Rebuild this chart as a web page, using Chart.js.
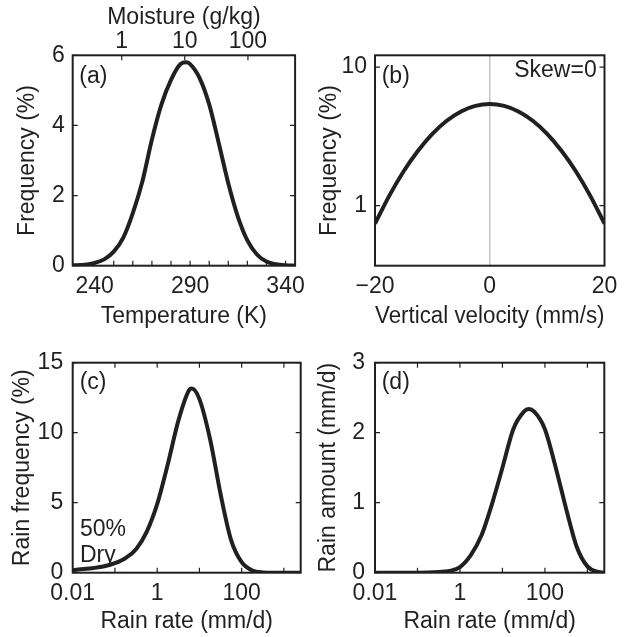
<!DOCTYPE html>
<html>
<head>
<meta charset="utf-8">
<script src="https://cdn.jsdelivr.net/npm/chart.js@4.4.1/dist/chart.umd.min.js"></script>
<style>
  html, body { margin: 0; padding: 0; background: #fff; }
  body { width: 627px; height: 637px; position: relative; overflow: hidden; }
  canvas { position: absolute; }
</style>
</head>
<body>
<canvas id="chartA" width="313" height="335" style="left:0;top:0"></canvas>
<canvas id="chartB" width="327" height="335" style="left:300px;top:0"></canvas>
<canvas id="chartC" width="313" height="302" style="left:0;top:335px"></canvas>
<canvas id="chartD" width="327" height="302" style="left:300px;top:335px"></canvas>
<script>
// (a) temperature distribution
const tempK = [228, 235, 240, 245, 250, 255, 260, 265, 270, 275, 280, 285, 288, 290, 295, 300, 305, 310, 315, 320, 325, 330, 335, 340, 345];
const freqTemp = [0.01, 0.03, 0.08, 0.18, 0.4, 0.8, 1.5, 2.4, 3.6, 4.6, 5.3, 5.75, 5.8, 5.75, 5.35, 4.6, 3.5, 2.35, 1.4, 0.72, 0.32, 0.12, 0.04, 0.01, 0];
const tempTicks = [240, 250, 260, 270, 280, 290, 300, 310, 320, 330, 340];
const tempLabels = [240, 290, 340];
const freqTicksA = [0, 2, 4, 6];
const moistureTickT = [254.2, 287.2, 320.3];
const moistureLabels = ["1", "10", "100"];

// (b) vertical velocity distribution (log y)
const velocity = [-20, -17.5, -15, -12.5, -10, -7.5, -5, -2.5, 0, 2.5, 5, 7.5, 10, 12.5, 15, 17.5, 20];
const freqVel = [0.74, 1.18, 1.77, 2.49, 3.30, 4.10, 4.79, 5.25, 5.42, 5.25, 4.79, 4.10, 3.30, 2.49, 1.77, 1.18, 0.74];
const velTicks = [-20, 0, 20];
const freqTicksB = [1, 10];

// (c) rain frequency
const rateC = [0.01, 0.018, 0.032, 0.056, 0.1, 0.18, 0.32, 0.56, 1, 1.8, 3.2, 5.6, 6.6, 10, 18, 32, 56, 100, 180, 320, 560, 2500];
const rainFreq = [0.2, 0.26, 0.34, 0.46, 0.68, 1.05, 1.7, 2.9, 4.9, 7.8, 10.9, 13.0, 13.15, 12.4, 9.5, 5.55, 2.35, 0.75, 0.15, 0.02, 0, 0];
const rainFreqTicks = [0, 5, 10, 15];

// (d) rain amount
const rateD = [0.01, 0.1, 0.32, 0.56, 1, 1.8, 3.2, 5.6, 10, 18, 32, 41, 56, 100, 180, 320, 560, 1000, 1800, 2500];
const rainAmount = [0, 0, 0.01, 0.025, 0.08, 0.25, 0.53, 0.97, 1.5, 2.05, 2.3, 2.34, 2.3, 2.05, 1.5, 0.9, 0.37, 0.09, 0.01, 0];
const rainAmountTicks = [0, 1, 2, 3];

const rateTicks = [0.01, 0.1, 1, 10, 100, 1000];
const rateLabels = [0.01, 1, 100];

const INK = "#231f20";
const FS = 23;
Chart.defaults.font.family = '"Liberation Sans", Arial, sans-serif';
Chart.defaults.font.size = FS;
Chart.defaults.color = INK;

// cadre + graduations vers l'intérieur + textes
const framePlugin = {
    id: "frame",
    beforeDatasetsDraw(chart, args, opts) {
        if (!opts.zeroLine) return;
        const { ctx, chartArea: a, scales } = chart;
        const px = scales.x.getPixelForValue(0);
        ctx.save();
        ctx.strokeStyle = "#c4c4c4";
        ctx.lineWidth = 1.5;
        ctx.beginPath();
        ctx.moveTo(px, a.top);
        ctx.lineTo(px, a.bottom);
        ctx.stroke();
        ctx.restore();
    },
    afterDatasetsDraw(chart, args, opts) {
        const { ctx, chartArea: a, scales } = chart;
        const len = 5;
        ctx.save();
        ctx.strokeStyle = INK;
        ctx.lineWidth = 1.2;
        ctx.beginPath();
        (opts.xMarks || []).forEach(v => {
            const px = scales.x.getPixelForValue(v);
            ctx.moveTo(px, a.bottom); ctx.lineTo(px, a.bottom - len);
            if (opts.xMirror) { ctx.moveTo(px, a.top); ctx.lineTo(px, a.top + len); }
        });
        (opts.topMarks || []).forEach(v => {
            const px = scales.x2.getPixelForValue(v);
            ctx.moveTo(px, a.top); ctx.lineTo(px, a.top + len);
        });
        (opts.yMarks || []).forEach(v => {
            const py = scales.y.getPixelForValue(v);
            ctx.moveTo(a.left, py); ctx.lineTo(a.left + len, py);
            ctx.moveTo(a.right, py); ctx.lineTo(a.right - len, py);
        });
        ctx.stroke();
        ctx.lineWidth = 2;
        ctx.strokeRect(a.left, a.top, a.right - a.left, a.bottom - a.top);

        ctx.fillStyle = INK;
        ctx.font = FS + 'px "Liberation Sans", Arial, sans-serif';
        ctx.textBaseline = "alphabetic";
        (opts.notes || []).forEach(n => {
            ctx.textAlign = n.align || "left";
            const x = n.align === "right" ? a.right + n.dx : a.left + n.dx;
            const y = n.fromBottom ? a.bottom + n.dy : a.top + n.dy;
            ctx.fillText(n.text, x, y);
        });
        ctx.restore();
    }
};

function axis(o) {
    return {
        type: o.type || "linear",
        axis: o.axis,
        position: o.position,
        min: o.min,
        max: o.max,
        grid: { display: false, drawTicks: false },
        border: { display: false },
        title: { display: true, text: o.title, color: INK, font: { size: FS }, padding: o.titlePad },
        ticks: { color: INK, font: { size: FS }, padding: o.tickPad, autoSkip: false, maxRotation: 0, callback: o.label },
        afterBuildTicks: s => { s.ticks = o.ticks.map(v => ({ value: v })); },
        afterFit: s => { if (s.isHorizontal()) s.height = o.size; else s.width = o.size; }
    };
}

function curve(xs, ys) {
    return {
        data: xs.map((x, i) => ({ x: x, y: ys[i] })),
        borderColor: INK,
        borderWidth: 4,
        pointRadius: 0,
        cubicInterpolationMode: "monotone",
        fill: false
    };
}

function config(xs, ys, padding, scales, frame) {
    return {
        type: "line",
        data: { datasets: [curve(xs, ys)] },
        options: {
            responsive: false,
            animation: false,
            layout: { padding: padding },
            scales: scales,
            plugins: { legend: { display: false }, tooltip: { enabled: false }, frame: frame }
        },
        plugins: [framePlugin]
    };
}

const minus = v => (v < 0 ? "\u2212" + Math.abs(v) : String(v));
const onlyRate = v => (rateLabels.includes(v) ? String(v) : "");

// 🌡️ (a)
new Chart(document.getElementById("chartA"), config(tempK, freqTemp, { left: 0, top: 0, right: 10.5, bottom: 0 }, {
    x: axis({ position: "bottom", min: 228.5, max: 345, ticks: tempTicks, title: "Temperature (K)",
        size: 69.3, tickPad: 7.5, titlePad: 4.2, label: v => (tempLabels.includes(v) ? String(v) : "") }),
    x2: axis({ axis: "x", position: "top", min: 228.5, max: 345, ticks: moistureTickT, title: "Moisture (g/kg)",
        size: 55.3, tickPad: 0, titlePad: 3.5, label: (v, i) => moistureLabels[i] }),
    y: axis({ position: "left", min: 0, max: 6, ticks: freqTicksA, title: "Frequency (%)",
        size: 72.7, tickPad: 8, titlePad: 14, label: v => String(v) })
}, {
    xMarks: tempTicks, topMarks: moistureTickT, yMarks: freqTicksA,
    notes: [{ text: "(a)", dx: 6.6, dy: 27.2 }]
}));

// 🌬️ (b)
new Chart(document.getElementById("chartB"), config(velocity, freqVel, { left: 0, top: 55.3, right: 22.5, bottom: 0 }, {
    x: axis({ position: "bottom", min: -20, max: 20, ticks: velTicks, title: "Vertical velocity (mm/s)",
        size: 69.3, tickPad: 7.5, titlePad: 4.2, label: minus }),
    y: axis({ type: "logarithmic", position: "left", min: 0.3679, max: 12.18, ticks: freqTicksB, title: "Frequency (%)",
        size: 75, tickPad: 8, titlePad: 16, label: v => String(v) })
}, {
    zeroLine: true, yMarks: freqTicksB,
    notes: [{ text: "(b)", dx: 6.7, dy: 27.2 }, { text: "Skew=0", align: "right", dx: -7.8, dy: 21.4 }]
}));

// 🌧️ (c)
new Chart(document.getElementById("chartC"), config(rateC, rainFreq, { left: 0, top: 27.7, right: 12.3, bottom: 0 }, {
    x: axis({ type: "logarithmic", position: "bottom", min: 0.01, max: 2500, ticks: rateTicks, title: "Rain rate (mm/d)",
        size: 64.3, tickPad: 7.5, titlePad: 1.2, label: onlyRate }),
    y: axis({ position: "left", min: 0, max: 15, ticks: rainFreqTicks, title: "Rain frequency (%)",
        size: 72.7, tickPad: 9.5, titlePad: 9, label: v => String(v) })
}, {
    xMarks: rateTicks, xMirror: true, yMarks: rainFreqTicks,
    notes: [{ text: "(c)", dx: 7, dy: 25.8 },
            { text: "50%", dx: 7.3, dy: -36.7, fromBottom: true },
            { text: "Dry", dx: 7.3, dy: -10.7, fromBottom: true }]
}));

// ☔ (d)
new Chart(document.getElementById("chartD"), config(rateD, rainAmount, { left: 0, top: 27.7, right: 22.7, bottom: 0 }, {
    x: axis({ type: "logarithmic", position: "bottom", min: 0.01, max: 2500, ticks: rateTicks, title: "Rain rate (mm/d)",
        size: 64.3, tickPad: 7.5, titlePad: 1.2, label: onlyRate }),
    y: axis({ position: "left", min: 0, max: 3, ticks: rainAmountTicks, title: "Rain amount (mm/d)",
        size: 75, tickPad: 10, titlePad: 15, label: v => String(v) })
}, {
    xMarks: rateTicks, xMirror: true, yMarks: rainAmountTicks,
    notes: [{ text: "(d)", dx: 6.7, dy: 25.8 }]
}));
</script>
</body>
</html>
